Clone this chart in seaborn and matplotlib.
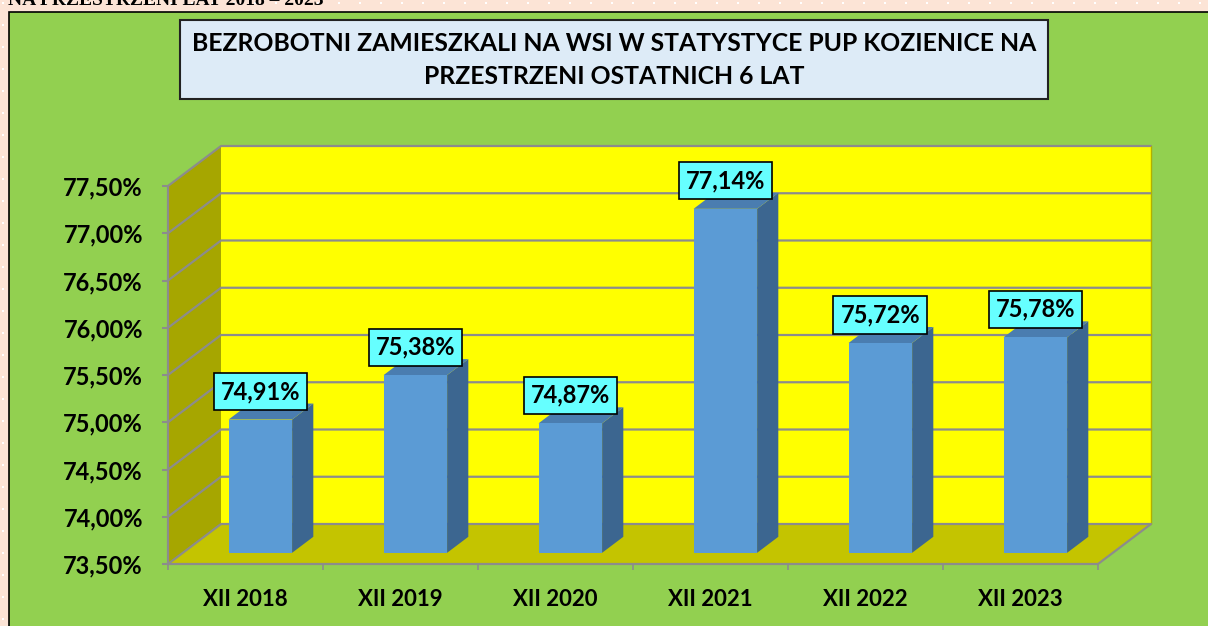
import numpy as np
import matplotlib
matplotlib.use("Agg")
import matplotlib.pyplot as plt
import matplotlib.transforms as mtransforms
from matplotlib.patches import Polygon, Rectangle
from matplotlib.lines import Line2D
import seaborn as sns

# dane
lata = ["XII 2018", "XII 2019", "XII 2020", "XII 2021", "XII 2022", "XII 2023"]
udzial = [74.91, 75.38, 74.87, 77.14, 75.72, 75.78]
etykiety = ["74,91%", "75,38%", "74,87%", "77,14%", "75,72%", "75,78%"]
os_y = [73.5, 74.0, 74.5, 75.0, 75.5, 76.0, 76.5, 77.0, 77.5]
os_y_opisy = ["73,50%", "74,00%", "74,50%", "75,00%", "75,50%",
              "76,00%", "76,50%", "77,00%", "77,50%"]
tytul = ("BEZROBOTNI ZAMIESZKALI NA WSI W STATYSTYCE PUP KOZIENICE NA\n"
         "PRZESTRZENI OSTATNICH 6 LAT")
naglowek = "NA PRZESTRZENI LAT 2018 – 2023"

sns.set_theme(style="white")
plt.rcParams["font.family"] = ["Lato", "DejaVu Sans"]
plt.rcParams["text.color"] = "black"
plt.rcParams["xtick.labelcolor"] = "black"
plt.rcParams["ytick.labelcolor"] = "black"

W, H = 1208, 626
fig = plt.figure(figsize=(W / 100, H / 100), dpi=100)
fig.patch.set_facecolor("#FCE4D6")

# tlo: kropki, zielony panel, ramka tytulu
bg = fig.add_axes([0, 0, 1, 1])
bg.set_xlim(0, W)
bg.set_ylim(H, 0)
bg.axis("off")
kx, ky = np.meshgrid(np.arange(3, W, 21), np.arange(3, H, 22))
bg.scatter(kx.ravel(), ky.ravel(), s=3, c="white", marker="s", linewidths=0)
bg.add_patch(Rectangle((9, 12), W, H, fc="#92D050", ec="black", lw=1.2))
bg.add_patch(Rectangle((180, 20), 868, 79, fc="#DDEBF7", ec="#222222", lw=1.5))
bg.text(614, 60, tytul, ha="center", va="center", fontsize=17.8,
        fontweight="bold", linespacing=1.5, color="black")
bg.text(8, 5, naglowek, ha="left", va="baseline", family="Liberation Serif",
        fontsize=14, fontweight="bold", color="black")

# wykres
ax = fig.add_axes([168 / W, 62 / H, 930 / W, 378 / H])
ax.patch.set_alpha(0)
sns.barplot(x=lata, y=udzial, color="#5B9BD5", width=0.41, saturation=1,
            linewidth=0, ax=ax, zorder=5)
slupki = list(ax.patches)
ax.set_xlim(-0.5, 5.5)
ax.set_ylim(os_y[0], os_y[-1])
for s in ax.spines.values():
    s.set_visible(False)

DX, DY = 53, 40   # glebokosc 3D w pikselach
f0, f1 = 0.28, 0.68
baza = os_y[0]


def P(x, y, d):
    X, Y = ax.transData.transform((x, y))
    return (X + d * DX, Y + d * DY)


def wielokat(pts, kolor, z):
    ax.add_artist(Polygon(pts, closed=True, fc=kolor, ec="none",
                          transform=mtransforms.IdentityTransform(),
                          clip_on=False, zorder=z))


def linia(pts, z=2, kolor="#8C8C8C", lw=1.6):
    xs, ys = zip(*pts)
    ax.add_artist(Line2D(xs, ys, color=kolor, lw=lw,
                         transform=mtransforms.IdentityTransform(),
                         clip_on=False, zorder=z))


x0, x1 = -0.5, 5.5
wielokat([P(x0, baza, 1), P(x1, baza, 1), P(x1, os_y[-1], 1), P(x0, os_y[-1], 1)], "#FFFF00", 1)
wielokat([P(x0, baza, 0), P(x0, baza, 1), P(x0, os_y[-1], 1), P(x0, os_y[-1], 0)], "#A6A600", 1)
wielokat([P(x0, baza, 0), P(x1, baza, 0), P(x1, baza, 1), P(x0, baza, 1)], "#C4C400", 1)
for y in os_y:
    linia([P(x0, y, 0), P(x0, y, 1), P(x1, y, 1)])
linia([P(x1, baza, 1), P(x1, os_y[-1], 1)], lw=1.0, kolor="#B0B000")
linia([P(x0, os_y[-1], 0), P(x0, baza, 0), P(x1, baza, 0), P(x1, baza, 1)])

przesun = ax.transData + mtransforms.ScaledTranslation(
    f0 * DX / 100, f0 * DY / 100, fig.dpi_scale_trans)
for p, v in zip(slupki, udzial):
    p.set_y(baza)
    p.set_height(v - baza)
    p.set_transform(przesun)
    p.set_clip_on(False)
    a, b = p.get_x(), p.get_x() + p.get_width()
    wielokat([P(b, baza, f0), P(b, baza, f1), P(b, v, f1), P(b, v, f0)], "#3C6690", 4)
    wielokat([P(a, v, f0), P(b, v, f0), P(b, v, f1), P(a, v, f1)], "#4A7DB0", 4)

for i, (v, t) in enumerate(zip(udzial, etykiety)):
    ax.annotate(t, xy=(i, v), xytext=(f0 * DX, f0 * DY + 28),
                textcoords="offset pixels", ha="center", va="center",
                fontsize=17, fontweight="bold", zorder=10, color="black",
                annotation_clip=False,
                bbox=dict(boxstyle="square,pad=0.3", fc="#66FFFF",
                          ec="black", lw=1.2))

ax.set_yticks(os_y)
ax.set_yticklabels(os_y_opisy, fontsize=17, fontweight="bold")
ax.tick_params(axis="y", left=True, length=4, width=1.5, color="#8C8C8C",
               pad=14, labelcolor="black")
ax.set_xticks(range(len(lata)))
ax.set_xticklabels(lata, fontsize=16, fontweight="bold")
ax.set_xticks(np.arange(-0.5, 6, 1), minor=True)
ax.tick_params(axis="x", which="major", length=0, pad=18, labelcolor="black")
ax.tick_params(axis="x", which="minor", bottom=True, length=4, width=1.2,
               color="#8C8C8C")
ax.set_xlabel("")
ax.set_ylabel("")

fig.savefig("out.png", dpi=100)
